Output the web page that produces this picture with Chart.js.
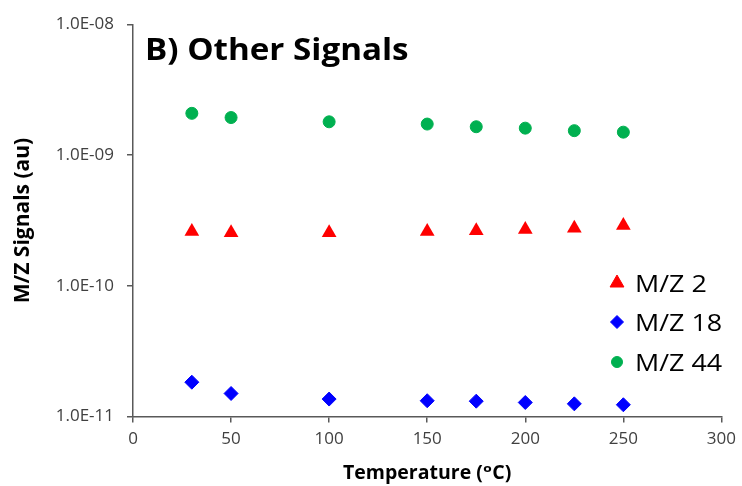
<!DOCTYPE html>
<html>
<head>
<meta charset="utf-8">
<script src="https://cdn.jsdelivr.net/npm/chart.js@4.4.1/dist/chart.umd.min.js"></script>
<style>
  html, body { margin: 0; padding: 0; background: #fff; }
  #wrap { width: 742px; height: 486px; }
</style>
</head>
<body>
<div id="wrap"><canvas id="chart" width="742" height="486"></canvas></div>
<script>
// data
const temps = [30, 50, 100, 150, 175, 200, 225, 250];
const mz2 = [2.61e-10, 2.55e-10, 2.55e-10, 2.61e-10, 2.64e-10, 2.70e-10, 2.76e-10, 2.90e-10];
const mz18 = [1.83e-11, 1.50e-11, 1.36e-11, 1.32e-11, 1.31e-11, 1.28e-11, 1.25e-11, 1.23e-11];
const mz44 = [2.09e-9, 1.94e-9, 1.80e-9, 1.73e-9, 1.65e-9, 1.61e-9, 1.54e-9, 1.50e-9];
const yTicks = [1e-11, 1e-10, 1e-9, 1e-8];
const seriesLabels = ["M/Z 2", "M/Z 18", "M/Z 44"];

const FONT = "'Open Sans', 'DejaVu Sans', sans-serif";

function fmtE(v) {
  const parts = v.toExponential(1).split("e");
  const n = parseInt(parts[1], 10);
  return parts[0] + "E" + (n < 0 ? "-" : "+") + String(Math.abs(n)).padStart(2, "0");
}

function toPoints(ys) {
  return temps.map((t, i) => ({ x: t, y: ys[i] }));
}

// chart title drawn inside the plot, top-left (text a bit wide, like the original)
const titlePlugin = {
  id: "innerTitle",
  afterDraw(chart) {
    const ctx = chart.ctx;
    ctx.save();
    ctx.translate(145, 60);
    ctx.scale(1.07, 1);
    ctx.fillStyle = "#000";
    ctx.font = "bold 31px " + FONT;
    ctx.textBaseline = "alphabetic";
    ctx.textAlign = "left";
    ctx.fillText("B) Other Signals", 0, 0);
    ctx.restore();
  },
};

// legend inside the plot, right side
const legendPlugin = {
  id: "innerLegend",
  afterDraw(chart) {
    const ctx = chart.ctx;
    const rows = [283, 322, 362];
    const radii = [8, 6.5, 5.5];
    chart.data.datasets.forEach((ds, i) => {
      const y = rows[i];
      ctx.save();
      ctx.fillStyle = ds.backgroundColor;
      ctx.strokeStyle = ds.borderColor;
      ctx.lineWidth = 1;
      Chart.helpers.drawPoint(ctx, { pointStyle: ds.pointStyle, radius: radii[i], borderWidth: 1, rotation: 0 }, 617, y);
      ctx.translate(635, y + 8.5);
      ctx.scale(1.12, 1);
      ctx.fillStyle = "#000";
      ctx.font = "24px " + FONT;
      ctx.textBaseline = "alphabetic";
      ctx.textAlign = "left";
      ctx.fillText(ds.label, 0, 0);
      ctx.restore();
    });
  },
};

const ctx = document.getElementById("chart").getContext("2d");
new Chart(ctx, {
  type: "scatter",
  data: {
    datasets: [
      {
        label: seriesLabels[0],
        data: toPoints(mz2),
        pointStyle: "triangle",
        pointRadius: 8.5,
        backgroundColor: "#FF0000",
        borderColor: "#FF0000",
        borderWidth: 0,
      },
      {
        label: seriesLabels[1],
        data: toPoints(mz18),
        pointStyle: "rectRot",
        pointRadius: 7,
        backgroundColor: "#0000FF",
        borderColor: "#0000FF",
        borderWidth: 1,
      },
      {
        label: seriesLabels[2],
        data: toPoints(mz44),
        pointStyle: "circle",
        pointRadius: 6,
        backgroundColor: "#00B050",
        borderColor: "#00B050",
        borderWidth: 1,
      },
    ],
  },
  options: {
    responsive: false,
    animation: false,
    layout: { padding: { top: 24.5, right: 19, bottom: 0, left: 0 } },
    plugins: {
      legend: { display: false },
      tooltip: { enabled: false },
    },
    scales: {
      x: {
        type: "linear",
        min: 0,
        max: 300,
        ticks: {
          stepSize: 50,
          color: "#404040",
          padding: 6,
          font: { family: FONT, size: 17 },
        },
        grid: { drawOnChartArea: false, drawTicks: true, tickLength: 6, color: "#595959", lineWidth: 1.5 },
        border: { color: "#595959", width: 1.5 },
        title: {
          display: true,
          text: "Temperature (ᵒC)",
          color: "#000",
          font: { family: FONT, size: 19.5, weight: "bold" },
          padding: { top: 0, bottom: 1 },
        },
        afterFit(s) { s.height = 69.5; },
      },
      y: {
        type: "logarithmic",
        min: 1e-11,
        max: 1e-8,
        afterBuildTicks(s) { s.ticks = yTicks.map((v) => ({ value: v, major: true })); },
        ticks: {
          color: "#404040",
          padding: 13,
          font: { family: FONT, size: 17 },
          callback: (v) => fmtE(v),
        },
        grid: { drawOnChartArea: false, drawTicks: true, tickLength: 6, color: "#595959", lineWidth: 1.5 },
        border: { color: "#595959", width: 1.5 },
        title: {
          display: true,
          text: "M/Z Signals (au)",
          color: "#000",
          font: { family: FONT, size: 21, weight: "bold" },
          padding: { top: 10, bottom: 0 },
        },
        afterFit(s) { s.width = 133; },
      },
    },
  },
  plugins: [titlePlugin, legendPlugin],
});
</script>
</body>
</html>
